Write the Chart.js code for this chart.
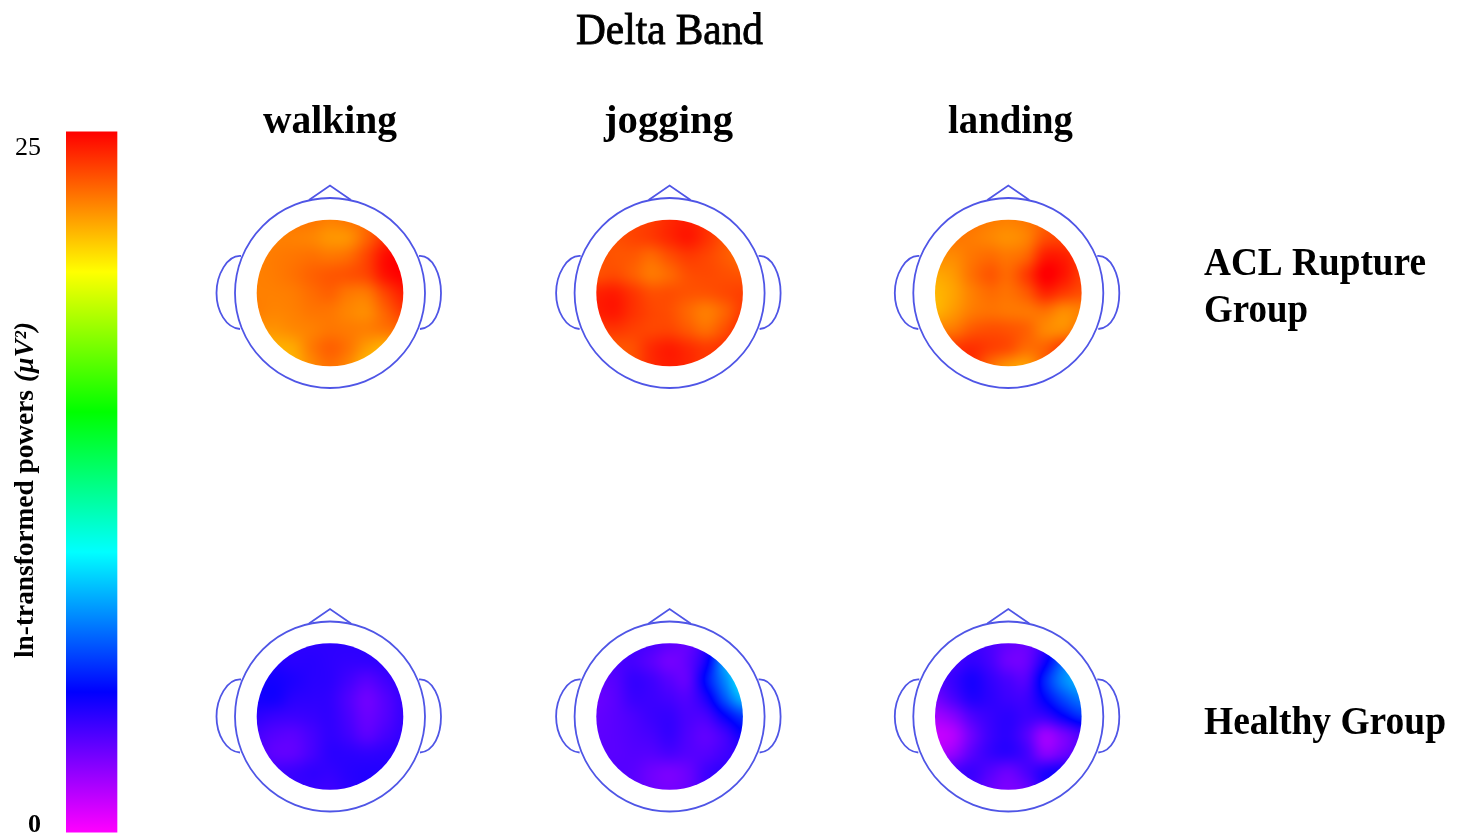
<!DOCTYPE html>
<html>
<head>
<meta charset="utf-8">
<title>Delta Band</title>
<script src="https://cdn.jsdelivr.net/npm/chart.js@4"></script>
<style>
  html, body { margin: 0; background: #fff; }
  canvas { display: block; filter: blur(0.5px); }
</style>
</head>
<body>
<canvas id="topoChart" width="1465" height="834"></canvas>
<script>
/* ============================================
   Delta band scalp maps, 2 groups x 3 tasks.
   Values on a 9x9 grid
   across each head (top row = nose side).
   ============================================ */

const conditions = ["walking", "jogging", "landing"];
const groups = ["ACL Rupture Group", "Healthy Group"];
const colorbarTicks = [0, 25];

// colour bar: value where each pure hue sits
const hueValues = [-0.26, 4.91, 10.08, 15.25, 20.42, 25.59];
const hueColors = ["#ff00ff", "#0000ff", "#00ffff", "#00ff00", "#ffff00", "#ff0000"];

const aclWalking = [
  23, 23, 23.2, 23.2, 23, 23.2, 23.5, 24, 24,
  23, 23, 23, 22.9, 22.6, 22.7, 23.6, 24.6, 25,
  23, 23.1, 23.2, 23.3, 23.2, 23.4, 24.2, 25.3, 25.6,
  23, 23.1, 23.3, 23.6, 23.8, 23.9, 24.2, 25.2, 25.6,
  23, 23, 23.1, 23.4, 23.6, 23.2, 23.2, 24.2, 25,
  23, 22.9, 23, 23.2, 23.2, 22.9, 22.8, 23.6, 24.4,
  22.6, 22.6, 22.8, 23, 23.2, 23.1, 23, 23.2, 23.5,
  22, 22, 22.2, 23.1, 23.6, 23.2, 22.4, 22, 22.4,
  21.8, 21.8, 22, 22.8, 23.3, 22.8, 21.8, 21.6, 22,
];
const aclJogging = [
  24, 24, 24.2, 24.4, 24.8, 25, 24.6, 24, 23.6,
  24, 24, 24.2, 24.4, 24.8, 25.1, 24.6, 23.9, 23.4,
  24, 23.9, 23.8, 23.5, 24, 24.4, 24.2, 23.8, 23.4,
  24, 24.1, 23.7, 23.2, 23.5, 24, 24.1, 24, 23.9,
  24.9, 25, 24.5, 24, 24, 23.9, 23.9, 24.1, 24.3,
  25, 25.1, 24.6, 24.2, 24, 23.5, 23.1, 23.6, 24.4,
  24.4, 24.5, 24.3, 24.2, 24.2, 23.8, 23.4, 24, 24.8,
  23.6, 23.8, 24, 24.7, 25, 24.7, 24.4, 24.6, 24.8,
  23.6, 23.8, 24, 24.7, 25, 24.8, 24.4, 24.5, 24.5,
];
const aclLanding = [
  23.4, 23.4, 23.3, 23.1, 23, 23.2, 23.6, 24, 24,
  23.2, 23.2, 23.1, 22.9, 22.7, 23, 24, 24.2, 24,
  22.8, 22.8, 23.2, 23.4, 23.2, 23.6, 25, 25, 24.4,
  22.2, 22.5, 23.3, 23.8, 23.5, 24.4, 25.6, 25.2, 24.4,
  21.9, 22.3, 23, 23.4, 23.3, 23.8, 24.8, 24.4, 24,
  22, 22.5, 23.1, 23.3, 23.2, 23.2, 23.3, 22.8, 23,
  23, 23.2, 23.8, 24, 23.9, 23.6, 22.9, 22.8, 23.4,
  24.2, 24.4, 24.6, 24.3, 24, 23.4, 23.6, 24.4, 24.6,
  24.4, 24.6, 24.6, 23.4, 22.6, 22.4, 23.6, 24.6, 24.6,
];
const healthyWalking = [
  4, 4, 4, 4, 4, 4, 4, 4, 4,
  4.2, 4.2, 4.1, 4.1, 4, 3.9, 3.9, 4, 4.1,
  4.5, 4.5, 4.3, 4.1, 4, 3.6, 3.2, 3.6, 4,
  4.5, 4.5, 4.1, 4, 3.9, 3.3, 2.7, 3.2, 3.8,
  4, 3.8, 3.7, 3.8, 3.9, 3.4, 2.8, 3.2, 3.8,
  3.5, 3.2, 3.1, 3.5, 3.9, 3.6, 3.1, 3.5, 3.9,
  3.4, 3, 3, 3.5, 4, 4, 3.9, 4, 4.1,
  3.7, 3.6, 3.7, 3.9, 3.9, 4.1, 4.2, 4.2, 4.2,
  3.8, 3.8, 3.8, 3.8, 3.7, 4, 4.2, 4.2, 4.2,
];
const healthyJogging = [
  3.6, 3.6, 3.6, 3.4, 3, 2.9, 4, 6, 7,
  3.4, 3.4, 3.5, 3.1, 2.6, 3, 4.6, 8, 9.5,
  3, 3.2, 3.8, 3.6, 3.1, 3, 5.2, 7.6, 9.8,
  2.8, 3.1, 3.7, 3.7, 3.5, 3.3, 4.4, 6.6, 8.6,
  2.9, 3.1, 3.4, 3.7, 3.8, 3.4, 3.5, 4.8, 6,
  3, 3.1, 3.3, 3.5, 3.8, 3.3, 3, 3.6, 4.7,
  3.1, 3.1, 3.2, 3.2, 3.4, 3.2, 3.2, 3.6, 4,
  3.1, 3.2, 3.1, 2.7, 2.5, 2.8, 3.6, 4, 4.1,
  3.2, 3.2, 3.1, 2.7, 2.5, 2.8, 3.6, 4, 4.1,
];
const healthyLanding = [
  3.6, 3.6, 3.7, 3.4, 2.9, 2.8, 3.8, 5.5, 6.5,
  3.5, 3.5, 3.9, 3.5, 2.7, 2.8, 4.6, 7, 8.5,
  3.2, 3.8, 4.4, 3.9, 3.4, 3.3, 5.6, 7.6, 8.6,
  2.6, 3.4, 4.2, 4, 3.7, 3.7, 5, 6.4, 7.4,
  1.6, 2.2, 3.3, 3.8, 4, 3.7, 3.8, 4.8, 5.8,
  0.9, 1.3, 2.7, 3.7, 4, 3.2, 1.8, 2.5, 3.4,
  1.4, 1.9, 3.1, 3.8, 4, 3.5, 2.2, 2.7, 3.4,
  3, 3.4, 3.7, 3.2, 2.8, 3.4, 4.2, 4.5, 4.2,
  3.4, 3.6, 3.5, 2.8, 2.4, 2.8, 4.2, 4.6, 4.4,
];

const GRID = 9;
const columnX = [330, 669.6, 1008.3];
const rowY = [293, 716.5];
const DISC_R = 73.3;
const HEAD_R = 95;
const LINE_COLOR = "#4f55e6";
const FONT = '"Liberation Serif", serif';

const headValues = [
  [aclWalking, aclJogging, aclLanding],
  [healthyWalking, healthyJogging, healthyLanding],
];

function hexToRgb(hex) {
  return [1, 3, 5].map((i) => parseInt(hex.slice(i, i + 2), 16));
}
const hueRgb = hueColors.map(hexToRgb);

function valueToColor(v) {
  let i = 0;
  while (i < hueValues.length - 2 && v > hueValues[i + 1]) i++;
  let t = (v - hueValues[i]) / (hueValues[i + 1] - hueValues[i]);
  t = Math.max(0, Math.min(1, t));
  const a = hueRgb[i];
  const b = hueRgb[i + 1];
  return `rgb(${a.map((c, k) => Math.round(c + (b[k] - c) * t)).join(",")})`;
}

// smooth reading of the grid, only used when painting
function cubic(p0, p1, p2, p3, t) {
  return (
    p1 +
    0.5 * t * (p2 - p0 + t * (2 * p0 - 5 * p1 + 4 * p2 - p3 + t * (3 * (p1 - p2) + p3 - p0)))
  );
}
function sampleGrid(values, gx, gy) {
  const at = (c, r) => {
    c = Math.max(0, Math.min(GRID - 1, c));
    r = Math.max(0, Math.min(GRID - 1, r));
    return values[r * GRID + c];
  };
  const c0 = Math.floor(gx);
  const r0 = Math.floor(gy);
  const rows = [-1, 0, 1, 2].map((dr) =>
    cubic(at(c0 - 1, r0 + dr), at(c0, r0 + dr), at(c0 + 1, r0 + dr), at(c0 + 2, r0 + dr), gx - c0),
  );
  return cubic(rows[0], rows[1], rows[2], rows[3], gy - r0);
}

function drawDisc(ctx, scales, cx, cy, values) {
  const left = scales.x.getPixelForValue(cx - DISC_R);
  const right = scales.x.getPixelForValue(cx + DISC_R);
  const top = scales.y.getPixelForValue(cy - DISC_R);
  const bottom = scales.y.getPixelForValue(cy + DISC_R);
  ctx.save();
  ctx.beginPath();
  ctx.arc((left + right) / 2, (top + bottom) / 2, (right - left) / 2, 0, Math.PI * 2);
  ctx.clip();
  for (let py = Math.floor(top); py < bottom; py++) {
    for (let px = Math.floor(left); px < right; px++) {
      const gx = ((px + 0.5 - left) / (right - left)) * (GRID - 1);
      const gy = ((py + 0.5 - top) / (bottom - top)) * (GRID - 1);
      ctx.fillStyle = valueToColor(sampleGrid(values, gx, gy));
      ctx.fillRect(px, py, 1, 1);
    }
  }
  ctx.restore();
}

function drawOutline(ctx, scales, cx, cy) {
  const X = (v) => scales.x.getPixelForValue(cx + v);
  const Y = (v) => scales.y.getPixelForValue(cy + v);
  ctx.save();
  ctx.strokeStyle = LINE_COLOR;
  ctx.lineWidth = 1.8;

  ctx.beginPath();
  ctx.arc(X(0), Y(0), HEAD_R, 0, Math.PI * 2);
  ctx.stroke();

  // nose
  ctx.beginPath();
  ctx.moveTo(X(-21), Y(-93));
  ctx.lineTo(X(0), Y(-107.5));
  ctx.lineTo(X(21), Y(-93));
  ctx.stroke();

  // ears
  [-113.5, 111].forEach((edge) => {
    const side = Math.sign(edge);
    ctx.beginPath();
    ctx.moveTo(X(side * 89), Y(-37));
    ctx.bezierCurveTo(X(side * 103), Y(-38), X(edge), Y(-18), X(edge), Y(0));
    ctx.bezierCurveTo(X(edge), Y(18), X(side * 104), Y(35), X(side * 90), Y(36));
    ctx.stroke();
  });
  ctx.restore();
}

// condensed serif labels: squeeze the text to the width it has in the figure
function drawLabel(ctx, text, x, y, width, font, angle, heavy) {
  ctx.save();
  ctx.font = font;
  ctx.fillStyle = "#000";
  ctx.strokeStyle = "#000";
  ctx.textBaseline = "alphabetic";
  ctx.textAlign = "left";
  ctx.translate(x, y);
  if (angle) ctx.rotate(angle);
  ctx.scale(width / ctx.measureText(text).width, 1);
  ctx.fillText(text, 0, 0);
  if (heavy) {
    ctx.lineWidth = heavy;
    ctx.strokeText(text, 0, 0);
  }
  ctx.restore();
}

const topoPlugin = {
  id: "topo",
  afterDatasetsDraw(chart) {
    const { ctx, scales } = chart;
    rowY.forEach((cy, r) => {
      columnX.forEach((cx, c) => {
        drawDisc(ctx, scales, cx, cy, headValues[r][c]);
        drawOutline(ctx, scales, cx, cy);
      });
    });

    drawLabel(ctx, "Delta Band", 576, 44, 187, `44px ${FONT}`, 0, 0.9);
    drawLabel(ctx, conditions[0], 263, 133, 134, `bold 41px ${FONT}`);
    drawLabel(ctx, conditions[1], 604, 133, 129, `bold 41px ${FONT}`);
    drawLabel(ctx, conditions[2], 948, 133, 125, `bold 41px ${FONT}`);
    drawLabel(ctx, "ACL Rupture", 1204, 275, 222, `bold 40px ${FONT}`);
    drawLabel(ctx, "Group", 1204, 322, 104, `bold 40px ${FONT}`);
    drawLabel(ctx, groups[1], 1204, 734, 242, `bold 40px ${FONT}`);
    drawLabel(ctx, "ln-transformed powers", 33, 658, 268, `bold 27px ${FONT}`, -Math.PI / 2);
    drawLabel(ctx, "(\u00b5V\u00b2)", 33, 382, 60, `italic bold 27px ${FONT}`, -Math.PI / 2);
  },
};

const colorbarGradient = (context) => {
  const { ctx, scales } = context.chart;
  const from = scales.yPower ? scales.yPower.getPixelForValue(hueValues[0]) : NaN;
  const to = scales.yPower ? scales.yPower.getPixelForValue(hueValues[hueValues.length - 1]) : NaN;
  if (!Number.isFinite(from) || !Number.isFinite(to)) return hueColors[0];
  const gradient = ctx.createLinearGradient(0, from, 0, to);
  hueColors.forEach((color, i) => gradient.addColorStop(i / (hueColors.length - 1), color));
  return gradient;
};

new Chart(document.getElementById("topoChart"), {
  type: "bar",
  data: {
    datasets: [
      {
        label: "ln-transformed powers",
        xAxisID: "x",
        yAxisID: "yPower",
        data: [{ x: 91.5, y: [hueValues[0], hueValues[hueValues.length - 1]] }],
        backgroundColor: colorbarGradient,
        borderWidth: 0,
        barThickness: 51,
      },
    ],
  },
  options: {
    responsive: false,
    animation: false,
    layout: { padding: 0 },
    plugins: { legend: { display: false }, tooltip: { enabled: false } },
    scales: {
      x: { type: "linear", display: false, min: 66, max: 1465, offset: false },
      y: { type: "linear", display: false, min: 0, max: 834, reverse: true },
      yPower: {
        type: "linear",
        position: "left",
        min: -0.33,
        max: 30.46,
        grid: { display: false, drawTicks: false },
        border: { display: false },
        afterBuildTicks: (scale) => {
          scale.ticks = colorbarTicks.map((value) => ({ value }));
        },
        afterFit: (scale) => {
          scale.width = 66;
          scale.paddingTop = 0;
          scale.paddingBottom = 0;
        },
        ticks: {
          padding: 25,
          color: "#000",
          autoSkip: false,
          maxRotation: 0,
          font: (ctx) => ({
            family: "Liberation Serif",
            size: 26,
            weight: ctx.tick && ctx.tick.value === 0 ? "bold" : "normal",
          }),
        },
      },
    },
  },
  plugins: [topoPlugin],
});
</script>
</body>
</html>
